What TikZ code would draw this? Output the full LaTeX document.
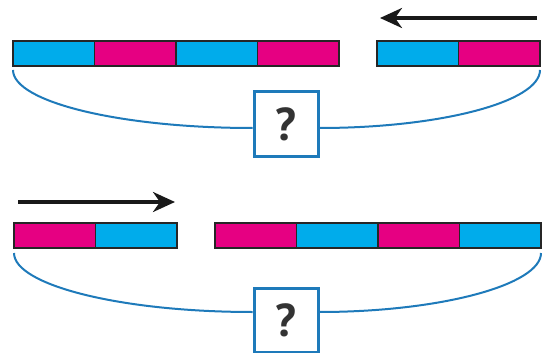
\documentclass[tikz,border=0pt]{standalone}
\usepackage{fontspec}
\setmainfont{PT Sans}
\usetikzlibrary{positioning,arrows.meta}

\definecolor{segcyan}{RGB}{0,172,235}
\definecolor{segmagenta}{RGB}{230,0,130}
\definecolor{qblue}{RGB}{30,122,186}

\begin{document}
\begin{tikzpicture}[x=1pt, y=-1pt,
  seg/.style={draw=black!85, line width=1.2pt, inner sep=0pt, outer sep=0pt,
    minimum width=81.5pt, minimum height=25pt},
  cyanseg/.style={seg, fill=segcyan},
  magseg/.style={seg, fill=segmagenta},
  qbox/.style={draw=qblue, line width=3pt, fill=white, inner sep=0pt,
    minimum width=64pt, minimum height=64pt, text=black!80,
    font=\fontsize{46}{50}\selectfont\bfseries},
  brace/.style={draw=qblue, line width=2pt},
  move/.style={line width=3.5pt, draw=black!90,
    -{Stealth[length=22pt,width=20pt,inset=7pt]}}]
\useasboundingbox (0,0) rectangle (544,353);

% upper strand
\node (ta1) [cyanseg, anchor=north west] at (13,41) {};
\node (ta2) [magseg, right=0pt of ta1] {};
\node (ta3) [cyanseg, right=0pt of ta2] {};
\node (ta4) [magseg, right=0pt of ta3] {};
\node (tb1) [cyanseg, anchor=north west] at (377,41) {};
\node (tb2) [magseg, right=0pt of tb1] {};
\node (q1) [qbox] at (286,124) {?};

\coordinate (arr1-start) at (537,18);
\coordinate (arr1-end) at (380,18);
\draw[move] (arr1-start) -- (arr1-end);

\draw[brace] ([yshift=-4pt]ta1.south west) .. controls +(0,32) and +(-132,0) .. ([yshift=-4pt]q1.west);
\draw[brace] ([yshift=-4pt]tb2.south east) .. controls +(0,32) and +(120,0) .. ([yshift=-4pt]q1.east);

% lower strand
\node (ba1) [magseg, anchor=north west] at (14,223) {};
\node (ba2) [cyanseg, right=0pt of ba1] {};
\node (bb1) [magseg, anchor=north west] at (215,223) {};
\node (bb2) [cyanseg, right=0pt of bb1] {};
\node (bb3) [magseg, right=0pt of bb2] {};
\node (bb4) [cyanseg, right=0pt of bb3] {};
\node (q2) [qbox] at (286,320) {?};

\coordinate (arr2-start) at (18,202);
\coordinate (arr2-end) at (175,202);
\draw[move] (arr2-start) -- (arr2-end);

\draw[brace] ([yshift=-5pt]ba1.south west) .. controls +(0,32) and +(-132,0) .. ([yshift=8pt]q2.west);
\draw[brace] ([yshift=-5pt]bb4.south east) .. controls +(0,32) and +(120,0) .. ([yshift=8pt]q2.east);
\end{tikzpicture}
\end{document}
